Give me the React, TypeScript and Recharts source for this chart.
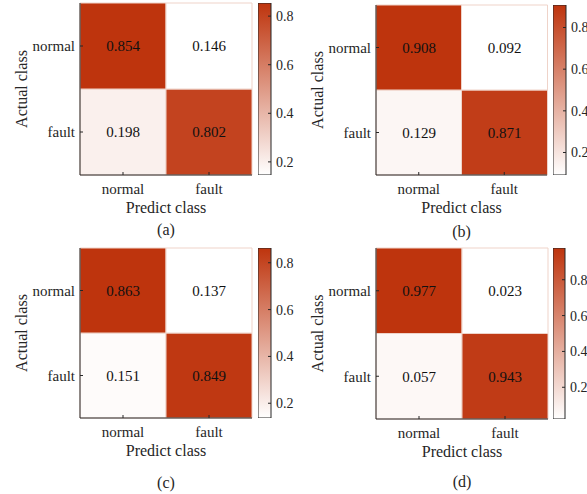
import { BarChart, Bar, XAxis, YAxis, Cell, LabelList } from 'recharts'

const classes = ['normal', 'fault']
// rows = actual class, columns = predicted class
const matrixA = [
  [0.854, 0.146],
  [0.198, 0.802],
]
const matrixB = [
  [0.908, 0.092],
  [0.129, 0.871],
]
const matrixC = [
  [0.863, 0.137],
  [0.151, 0.849],
]
const matrixD = [
  [0.977, 0.023],
  [0.057, 0.943],
]
const panelTags = ['(a)', '(b)', '(c)', '(d)']
const colorbarTicks = [0.2, 0.4, 0.6, 0.8]

const FONT = '"Liberation Serif", "Times New Roman", serif'
const INK = '#262626'
const LOW = [255, 255, 255]
const HIGH = [190, 52, 13]

const mix = (t: number) => {
  const c = LOW.map((l, i) => Math.round(l + (HIGH[i] - l) * t))
  return `rgb(${c[0]},${c[1]},${c[2]})`
}

interface Layout {
  left: number
  top: number
  yAxisW: number
  plotW: number
  plotTop: number
  plotH: number
  cbLeft: number
  cbW: number
  labelX: number
  tagY: number
}

const layouts: Layout[] = [
  { left: 0, top: 0, yAxisW: 80, plotW: 172, plotTop: 3, plotH: 172, cbLeft: 258, cbW: 13, labelX: 21, tagY: 230 },
  { left: 290, top: 0, yAxisW: 86, plotW: 171, plotTop: 5, plotH: 170, cbLeft: 263, cbW: 13, labelX: 27, tagY: 232 },
  { left: 0, top: 245, yAxisW: 80, plotW: 172, plotTop: 3, plotH: 170, cbLeft: 258, cbW: 13, labelX: 21, tagY: 238 },
  { left: 290, top: 245, yAxisW: 86, plotW: 172, plotTop: 3, plotH: 171, cbLeft: 263, cbW: 12, labelX: 27, tagY: 237 },
]

const tickStyle = { fill: INK, fontSize: 15, fontFamily: FONT, style: { fontFamily: FONT } }

function ConfusionPanel({ matrix, tag, layout, id }: { matrix: number[][]; tag: string; layout: Layout; id: string }) {
  const flat = matrix.flat()
  const lo = Math.min(...flat)
  const hi = Math.max(...flat)
  const color = (v: number) => mix((v - lo) / (hi - lo))

  // each predicted class is a column of two stacked unit cells
  const data = classes.map((c, j) => ({
    pred: c,
    fault: 1,
    normal: 1,
    vfault: matrix[1][j],
    vnormal: matrix[0][j],
  }))

  const chartW = layout.yAxisW + layout.plotW + 4
  const chartH = 245
  const xAxisH = chartH - layout.plotTop - layout.plotH

  const cbData = [{ k: 'cb', range: [lo, hi] }]

  return (
    <div style={{ position: 'absolute', left: layout.left, top: layout.top, width: 297, height: 249 }}>
      <BarChart
        width={chartW}
        height={chartH}
        data={data}
        margin={{ top: layout.plotTop, right: 4, left: 0, bottom: 0 }}
        barCategoryGap={0}
        barGap={0}
      >
        <XAxis
          dataKey="pred"
          height={xAxisH}
          tickLine={{ stroke: INK }}
          tickSize={-3}
          tickMargin={11}
          axisLine={{ stroke: INK }}
          tick={tickStyle}
          label={{
            value: 'Predict class',
            position: 'insideTop',
            offset: 27,
            fill: INK,
            fontSize: 16,
            fontFamily: FONT,
          }}
        />
        <XAxis xAxisId="top" dataKey="pred" orientation="top" height={0} tick={false} tickLine={false} axisLine={{ stroke: INK }} />
        <YAxis
          type="number"
          domain={[0, 2]}
          ticks={[0.5, 1.5]}
          tickFormatter={(v: number) => (v < 1 ? classes[1] : classes[0])}
          width={layout.yAxisW}
          tickLine={{ stroke: INK }}
          tickSize={-3}
          tickMargin={8}
          axisLine={{ stroke: INK }}
          tick={tickStyle}
          label={{
            value: 'Actual class',
            angle: -90,
            position: 'insideLeft',
            offset: layout.labelX,
            fill: INK,
            fontSize: 16,
            fontFamily: FONT,
            style: { textAnchor: 'middle' },
          }}
        />
        <YAxis
          yAxisId="right"
          orientation="right"
          type="number"
          domain={[0, 2]}
          ticks={[0.5, 1.5]}
          tickFormatter={() => ''}
          width={0}
          tickSize={-3}
          tickLine={{ stroke: INK }}
          axisLine={{ stroke: INK }}
        />
        <Bar dataKey="fault" stackId="cm" stroke="#efd3c9" strokeWidth={1} isAnimationActive={false}>
          {data.map((d, i) => (
            <Cell key={`f${i}`} fill={color(d.vfault)} />
          ))}
          <LabelList
            dataKey="vfault"
            position="center"
            formatter={(v: any) => Number(v).toFixed(3)}
            fill="#111"
            fontSize={15}
            fontFamily={FONT}
            style={{ fontFamily: FONT }}
          />
        </Bar>
        <Bar dataKey="normal" stackId="cm" stroke="#efd3c9" strokeWidth={1} isAnimationActive={false}>
          {data.map((d, i) => (
            <Cell key={`n${i}`} fill={color(d.vnormal)} />
          ))}
          <LabelList
            dataKey="vnormal"
            position="center"
            formatter={(v: any) => Number(v).toFixed(3)}
            fill="#111"
            fontSize={15}
            fontFamily={FONT}
            style={{ fontFamily: FONT }}
          />
        </Bar>
      </BarChart>

      {/* colorbar */}
      <div style={{ position: 'absolute', left: layout.cbLeft, top: 0 }}>
        <BarChart
          width={layout.cbW + 32}
          height={layout.plotTop + layout.plotH + 2}
          data={cbData}
          margin={{ top: layout.plotTop, right: 0, left: 0, bottom: 2 }}
          barCategoryGap={0}
        >
          <defs>
            <linearGradient id={`grad-${id}`} x1="0" y1="0" x2="0" y2="1">
              <stop offset="0%" stopColor={mix(1)} />
              <stop offset="100%" stopColor={mix(0)} />
            </linearGradient>
          </defs>
          <XAxis dataKey="k" hide />
          <YAxis
            orientation="right"
            type="number"
            domain={[lo, hi]}
            allowDataOverflow
            ticks={colorbarTicks}
            tickFormatter={(v: number) => v.toFixed(1)}
            width={32}
            tickLine={{ stroke: INK }}
            tickSize={-3}
            tickMargin={8}
            axisLine={false}
            tick={{ ...tickStyle, fontSize: 14 }}
          />
          <Bar dataKey="range" fill={`url(#grad-${id})`} stroke={INK} strokeWidth={1} isAnimationActive={false} />
        </BarChart>
      </div>

      <div
        style={{
          position: 'absolute',
          left: layout.yAxisW,
          width: layout.plotW,
          top: layout.tagY - 9,
          textAlign: 'center',
          fontSize: 16,
          lineHeight: '18px',
          color: INK,
        }}
      >
        {tag}
      </div>
    </div>
  )
}

export default function App() {
  const matrices = [matrixA, matrixB, matrixC, matrixD]
  return (
    <div
      style={{
        position: 'absolute',
        left: 0,
        top: 0,
        width: 587,
        height: 494,
        overflow: 'hidden',
        background: '#fff',
        fontFamily: FONT,
      }}
    >
      {matrices.map((m, i) => (
        <ConfusionPanel key={panelTags[i]} id={`p${i}`} matrix={m} tag={panelTags[i]} layout={layouts[i]} />
      ))}
    </div>
  )
}
